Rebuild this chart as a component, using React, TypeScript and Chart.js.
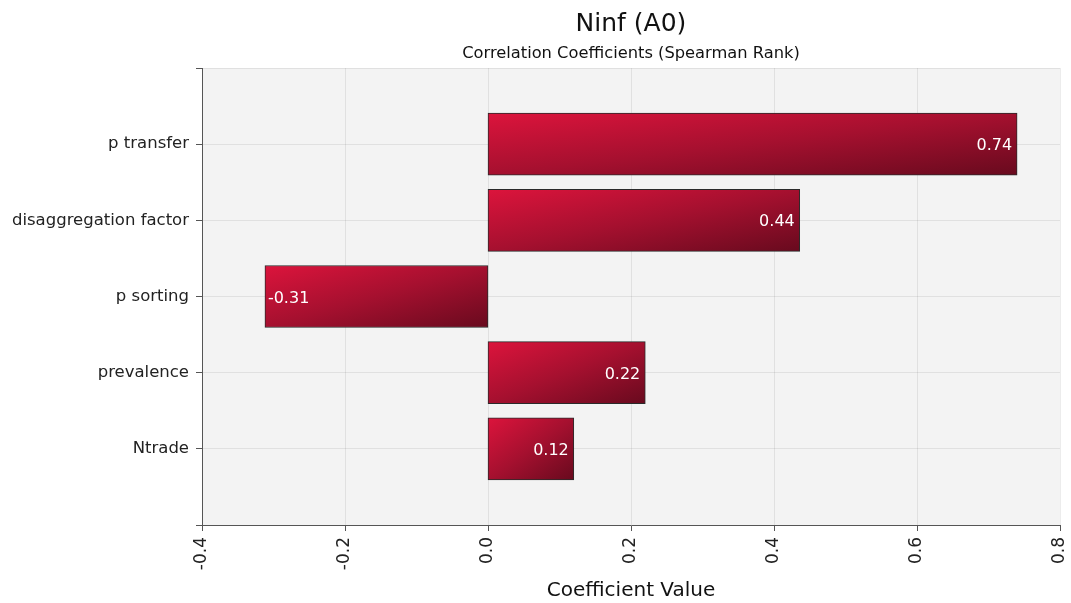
import React, { useEffect, useRef } from "react";
import { Chart, registerables } from "chart.js";

Chart.register(...registerables);

const TITLE = "Ninf (A0)";
const SUBTITLE = "Correlation Coefficients (Spearman Rank)";
const X_TITLE = "Coefficient Value";
const categories = ["p transfer", "disaggregation factor", "p sorting", "prevalence", "Ntrade"];
const coefficients = [0.74, 0.436, -0.312, 0.22, 0.12];
const valueLabels = ["0.74", "0.44", "-0.31", "0.22", "0.12"];
const xMin = -0.4;
const xMax = 0.8;
const xStep = 0.2;

const FONT = "'DejaVu Sans', Verdana, sans-serif";

export default function App() {
  const ref = useRef<HTMLCanvasElement | null>(null);

  useEffect(() => {
    const canvas = ref.current;
    if (!canvas) return;

    const labels = ["", ...categories, ""];
    const data = [null, ...coefficients, null];
    const texts = ["", ...valueLabels, ""];

    const bgPlugin = {
      id: "plotBg",
      beforeDraw(chart: any) {
        const { ctx, chartArea } = chart;
        ctx.save();
        ctx.fillStyle = "#ffffff";
        ctx.fillRect(0, 0, chart.width, chart.height);
        ctx.fillStyle = "#f3f3f3";
        ctx.fillRect(chartArea.left, chartArea.top, chartArea.right - chartArea.left, chartArea.bottom - chartArea.top);
        ctx.restore();
      },
    };

    const titlePlugin = {
      id: "titles",
      afterDraw(chart: any) {
        const { ctx, chartArea } = chart;
        const cx = (chartArea.left + chartArea.right) / 2;
        ctx.save();
        ctx.fillStyle = "#111";
        ctx.textAlign = "center";
        ctx.textBaseline = "middle";
        ctx.font = `25px ${FONT}`;
        ctx.fillText(TITLE, cx, 24);
        ctx.font = `16.3px ${FONT}`;
        ctx.fillText(SUBTITLE, cx, 54);
        ctx.restore();
      },
    };

    const valuePlugin = {
      id: "values",
      afterDraw(chart: any) {
        const { ctx } = chart;
        const meta = chart.getDatasetMeta(0);
        ctx.save();
        ctx.fillStyle = "#ffffff";
        ctx.font = `16px ${FONT}`;
        ctx.textBaseline = "middle";
        meta.data.forEach((el: any, i: number) => {
          const v = data[i];
          if (v === null || v === undefined) return;
          const t = texts[i];
          if (v >= 0) {
            ctx.textAlign = "right";
            ctx.fillText(t, el.x - 5, el.y + 2);
          } else {
            ctx.textAlign = "left";
            ctx.fillText(t, el.x + 3, el.y + 2);
          }
        });
        ctx.restore();
      },
    };

    const gradientFor = (c: any) => {
      const chart = c.chart;
      const xs = chart.scales?.x;
      const ys = chart.scales?.y;
      if (!xs || !ys || c.raw === null || c.raw === undefined) return "#a3102e";
      const x0 = xs.getPixelForValue(0);
      const x1 = xs.getPixelForValue(c.raw);
      const yc = ys.getPixelForValue(c.dataIndex);
      const left = Math.min(x0, x1);
      const right = Math.max(x0, x1);
      const top = yc - 31;
      const bottom = yc + 31;
      const w = Math.max(1, right - left);
      const h = Math.max(1, bottom - top);
      const k = 2 / (1 / (w * w) + 1 / (h * h));
      const g = chart.ctx.createLinearGradient(left, top, left + k / w, top + k / h);
      g.addColorStop(0, "#dc143c");
      g.addColorStop(0.5, "#a5102f");
      g.addColorStop(1, "#680a1e");
      return g;
    };

    const chart = new Chart(canvas, {
      type: "bar",
      data: {
        labels,
        datasets: [
          {
            data: data as any,
            backgroundColor: gradientFor as any,
            borderColor: "#2a2a2a",
            borderWidth: 1,
            borderSkipped: false,
            barThickness: 62,
          },
        ],
      },
      options: {
        indexAxis: "y",
        animation: false,
        responsive: true,
        maintainAspectRatio: false,
        layout: { padding: { top: 68, right: 11, left: 0, bottom: 0 } },
        plugins: {
          legend: { display: false },
          title: { display: false },
          tooltip: { enabled: false },
        },
        scales: {
          x: {
            type: "linear",
            min: xMin,
            max: xMax,
            z: 1,
            afterFit(scale: any) {
              scale.height = 78;
              scale.paddingLeft = 0;
              scale.paddingRight = 0;
            },
            ticks: {
              stepSize: xStep,
              minRotation: 90,
              maxRotation: 90,
              padding: 6,
              color: "#222",
              font: { family: FONT, size: 17 },
              callback: (v: any) => {
                const s = Number(v).toFixed(1);
                return s === "-0.0" ? "0.0" : s;
              },
            },
            grid: {
              color: "rgba(0,0,0,0.075)",
              tickColor: "#555",
              tickLength: 6,
            },
            border: { display: true, color: "#555", width: 1 },
            title: {
              display: true,
              text: X_TITLE,
              color: "#111",
              font: { family: FONT, size: 20 },
              padding: { top: 0, bottom: 0 },
            },
          },
          y: {
            type: "category",
            offset: false,
            afterFit(scale: any) {
              scale.width = 202;
              scale.paddingTop = 0;
              scale.paddingBottom = 0;
            },
            ticks: {
              padding: 7,
              color: "#222",
              autoSkip: false,
              font: { family: FONT, size: 16.5 },
            },
            grid: {
              color: "rgba(0,0,0,0.075)",
              tickColor: "#555",
              tickLength: 6,
              offset: false,
            },
            border: { display: true, color: "#555", width: 1 },
          },
        },
      },
      plugins: [bgPlugin, titlePlugin, valuePlugin],
    });

    return () => chart.destroy();
  }, []);

  return (
    <div style={{ position: "fixed", left: 0, top: 0, width: 1071, height: 603 }}>
      <canvas ref={ref} />
    </div>
  );
}
